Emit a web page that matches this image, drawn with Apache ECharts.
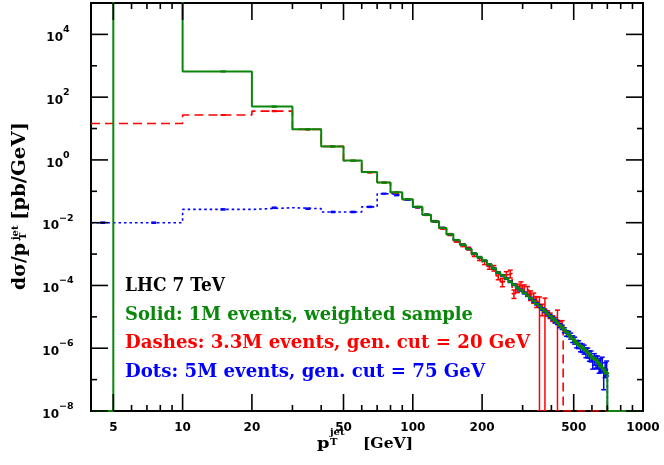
<!DOCTYPE html>
<html>
<head>
<meta charset="utf-8">
<script src="https://cdn.jsdelivr.net/npm/echarts@6/dist/echarts.min.js"></script>
<style>
html, body { margin: 0; padding: 0; background: #fff; }
#chart { width: 664px; height: 465px; }
</style>
</head>
<body>
<div id="chart"></div>
<script>
// bin edges (GeV): 4-5, 5-10, then 10 GeV bins up to 700, then 700-1000
const binEdges = [4, 5, 10, 20, 30, 40, 50, 60, 70, 80, 90,
  100, 110, 120, 130, 140, 150, 160, 170, 180, 190,
  200, 210, 220, 230, 240, 250, 260, 270, 280, 290,
  300, 310, 320, 330, 340, 350, 360, 370, 380, 390,
  400, 410, 420, 430, 440, 450, 460, 470, 480, 490,
  500, 510, 520, 530, 540, 550, 560, 570, 580, 590,
  600, 610, 620, 630, 640, 650, 660, 670, 680, 690,
  700, 1000];

// solid: 1M events, weighted sample
const greenVals = [0, 1e6, 660, 50, 9.5, 2.7,
  0.95, 0.41, 0.19, 0.093, 0.056,
  0.032, 0.018, 0.011, 0.0068, 0.0043, 0.0028, 0.0020, 0.00145, 0.00105, 0.00079,
  6.2e-4, 4.7e-4, 3.5e-4, 2.6e-4, 2.1e-4, 1.66e-4, 1.32e-4, 1.05e-4, 8.5e-5, 7.1e-5,
  5.8e-5, 4.8e-5, 3.9e-5, 3.2e-5, 2.6e-5, 2.2e-5, 1.8e-5, 1.5e-5, 1.26e-5, 1.07e-5,
  8.9e-6, 7.6e-6, 6.5e-6, 5.4e-6, 4.6e-6, 3.9e-6, 3.3e-6, 2.75e-6, 2.35e-6, 2.0e-6,
  1.7e-6, 1.45e-6, 1.29e-6, 1.15e-6, 1.02e-6, 9.1e-7, 8.1e-7, 7.2e-7, 6.3e-7, 5.6e-7,
  5.0e-7, 4.6e-7, 4.2e-7, 3.6e-7, 3.2e-7, 2.75e-7, 2.4e-7, 2.1e-7, 1.8e-7, 1.6e-7,
  0];
const greenRelErr = [0, 0, 0.03, 0.04, 0.03, 0.03,
  0.02, 0.02, 0.02, 0.02, 0.02,
  0.02, 0.02, 0.02, 0.02, 0.02, 0.02, 0.02, 0.02, 0.02, 0.02,
  0.02, 0.02, 0.02, 0.02, 0.02, 0.02, 0.02, 0.02, 0.02, 0.02,
  0.02, 0.02, 0.02, 0.02, 0.02, 0.02, 0.02, 0.02, 0.02, 0.02,
  0.02, 0.02, 0.02, 0.02, 0.02, 0.02, 0.02, 0.02, 0.02, 0.02,
  0.02, 0.02, 0.02, 0.02, 0.02, 0.02, 0.02, 0.02, 0.02, 0.02,
  0.02, 0.02, 0.02, 0.02, 0.02, 0.02, 0.02, 0.02, 0.02, 0.02,
  0];

// dashes: 3.3M events, gen. cut = 20 GeV
const redVals = [14.4, 14.4, 27, 36, 9.4, 2.7,
  0.94, 0.40, 0.19, 0.091, 0.055,
  0.031, 0.018, 0.011, 0.0066, 0.0042, 0.0026, 0.0019, 0.0015, 0.00095, 0.00072,
  5.5e-4, 4.0e-4, 3.6e-4, 2.0e-4, 1.3e-4, 2.2e-4, 2.4e-4, 5.5e-5, 8.5e-5, 1.0e-4,
  8.0e-5, 7.0e-5, 5.0e-5, 4.2e-5, 3.2e-5, 2.0e-5, 1.8e-5, 1.8e-5, 1.3e-5, 1.1e-5,
  9.0e-6, 8.0e-6, 8.0e-6, 6.0e-6, 6.3e-6, 0, 0, 0, 0, 0,
  0, 0, 0, 0, 0, 0, 0, 0, 0, 0,
  0, 0, 0, 0, 0, 0, 0, 0, 0, 0,
  0];
const redRelErr = [0, 0, 0.02, 0.03, 0.03, 0.03,
  0.03, 0.03, 0.04, 0.04, 0.05,
  0.05, 0.05, 0.06, 0.06, 0.07, 0.08, 0.09, 0.1, 0.12, 0.14,
  0.16, 0.18, 0.2, 0.24, 0.3, 0.25, 0.28, 0.3, 0.3, 0.3,
  0.3, 0.32, 0.34, 0.36, 0.38, 1.15, 0.4, 1.2, 0.2, 0.2,
  0.2, 0.2, 1.05, 0.2, 0.2, 0, 0, 0, 0, 0,
  0, 0, 0, 0, 0, 0, 0, 0, 0, 0,
  0, 0, 0, 0, 0, 0, 0, 0, 0, 0,
  0];

// dots: 5M events, gen. cut = 75 GeV
const blueVals = [0.01, 0.01, 0.0265, 0.030, 0.028, 0.022,
  0.022, 0.032, 0.084, 0.075, 0.054,
  0.031, 0.018, 0.011, 0.0069, 0.0043, 0.0028, 0.0020, 0.00146, 0.00104, 0.00080,
  6.1e-4, 4.7e-4, 3.5e-4, 2.6e-4, 2.1e-4, 1.65e-4, 1.32e-4, 1.06e-4, 8.4e-5, 7.1e-5,
  5.8e-5, 4.8e-5, 3.9e-5, 3.2e-5, 2.6e-5, 2.2e-5, 1.8e-5, 1.5e-5, 1.27e-5, 1.06e-5,
  9.0e-6, 7.4e-6, 6.6e-6, 5.3e-6, 4.7e-6, 3.8e-6, 3.0e-6, 2.9e-6, 2.5e-6, 2.0e-6,
  1.8e-6, 1.4e-6, 1.35e-6, 1.1e-6, 1.05e-6, 9.5e-7, 7.6e-7, 7.5e-7, 6.0e-7, 5.9e-7,
  3.6e-7, 4.8e-7, 4.0e-7, 3.9e-7, 2.9e-7, 3.2e-7, 3.5e-7, 1.4e-7, 2.3e-7, 2.6e-7,
  0];
const blueRelErr = [0.04, 0.04, 0.04, 0.04, 0.04, 0.04,
  0.04, 0.04, 0.03, 0.03, 0.03,
  0.03, 0.03, 0.03, 0.03, 0.03, 0.03, 0.03, 0.04, 0.04, 0.04,
  0.04, 0.04, 0.05, 0.05, 0.05, 0.05, 0.06, 0.06, 0.06, 0.07,
  0.07, 0.07, 0.08, 0.08, 0.08, 0.09, 0.09, 0.1, 0.1, 0.11,
  0.12, 0.13, 0.14, 0.15, 0.16, 0.18, 0.2, 0.2, 0.22, 0.24,
  0.25, 0.27, 0.28, 0.3, 0.3, 0.32, 0.34, 0.35, 0.36, 0.38,
  0.4, 0.4, 0.42, 0.44, 0.45, 0.46, 0.48, 0.66, 0.5, 0.5,
  0];

const xLabelTicks = [5, 10, 20, 50, 100, 200, 500, 1000];
const xMinorTicks = [6, 7, 8, 9, 30, 40, 60, 70, 80, 90, 300, 400, 600, 700, 800, 900];
const yLabelTicks = [1e-8, 1e-6, 1e-4, 1e-2, 1, 1e2, 1e4];
const yMinorTicks = [1e-7, 1e-5, 1e-3, 1e-1, 10, 1e3];

const legendLines = ['LHC 7 TeV', 'Solid: 1M events, weighted sample',
  'Dashes: 3.3M events, gen. cut = 20 GeV', 'Dots: 5M events, gen. cut = 75 GeV'];

const GREEN = '#0a870a', RED = '#ff0000', BLUE = '#0000ff';
const legendColors = ['#000000', GREEN, RED, BLUE];
const legendWidths = [100, 348, 405, 360];
const xMin = 4, xMax = 1000, yMin = 1e-8, yMax = 1e5;
const MAJOR_LEN = 17, MINOR_LEN = 6, TICK_W = 1.6;
const G = { left: 91, top: 3, right: 643, bottom: 411 };

const clampY = v => (v > yMin ? v : yMin);

// squeeze a proportional serif so that a string takes the width it has in the picture
const measureCtx = document.createElement('canvas').getContext('2d');
function fitScale(text, font, width) {
  measureCtx.font = font;
  return width / measureCtx.measureText(text).width;
}

// histogram as step line: value i spans [edge i, edge i+1]
function stepPoints(vals) {
  const pts = vals.map((v, i) => [binEdges[i], clampY(v)]);
  pts.push([binEdges[binEdges.length - 1], clampY(vals[vals.length - 1])]);
  return pts;
}

function errPoints(vals, rel) {
  const out = [];
  vals.forEach((v, i) => {
    if (!(v > 0) || !(rel[i] > 0) || v > yMax) return;
    const e = v * rel[i];
    const c = (binEdges[i] + binEdges[i + 1]) / 2;
    out.push([c, clampY(v - e), Math.min(v + e, yMax)]);
  });
  return out;
}

function errRender(color) {
  return function (params, api) {
    const x = api.value(0);
    const lo = api.coord([x, api.value(1)]);
    const hi = api.coord([x, api.value(2)]);
    const w = 2.5;
    const style = { stroke: color, lineWidth: 1.5 };
    return {
      type: 'group',
      children: [
        { type: 'line', shape: { x1: lo[0], y1: lo[1], x2: hi[0], y2: hi[1] }, style },
        { type: 'line', shape: { x1: lo[0] - w, y1: lo[1], x2: lo[0] + w, y2: lo[1] }, style },
        { type: 'line', shape: { x1: hi[0] - w, y1: hi[1], x2: hi[0] + w, y2: hi[1] }, style }
      ]
    };
  };
}

const serif = '"DejaVu Serif", "Liberation Serif", serif';
const legendFont = 'bold 19px ' + serif;
const legendGraphics = legendLines.map((t, i) => ({
  type: 'text', x: 125, y: 286.5 + i * 28.4,
  scaleX: fitScale(t, legendFont, legendWidths[i]),
  style: { text: t, fill: legendColors[i], font: legendFont, verticalAlign: 'middle' }
}));

const scriptFont = 'bold 10px ' + serif;
const xTitleFont = 'bold 15.5px ' + serif;
const xTitle = {
  type: 'group',
  children: [
    { type: 'text', x: 317, y: 443.8, scaleX: fitScale('p', xTitleFont, 12.5),
      style: { text: 'p', font: xTitleFont, fill: '#000', verticalAlign: 'middle' } },
    { type: 'text', x: 330, y: 432.3, style: { text: 'jet', font: scriptFont, fill: '#000', verticalAlign: 'middle' } },
    { type: 'text', x: 330, y: 442.3, style: { text: 'T', font: scriptFont, fill: '#000', verticalAlign: 'middle' } },
    { type: 'text', x: 363, y: 443.8, scaleX: fitScale('[GeV]', xTitleFont, 50),
      style: { text: '[GeV]', font: xTitleFont, fill: '#000', verticalAlign: 'middle' } }
  ]
};

const yTitleFont = 'bold 18.5px ' + serif;
const yTitle = {
  type: 'group', x: 20.3, y: 290, rotation: Math.PI / 2,
  children: [
    { type: 'text', x: 0, y: 0, scaleX: fitScale('d\u03c3/p', yTitleFont, 47),
      style: { text: 'd\u03c3/p', font: yTitleFont, fill: '#000', verticalAlign: 'middle' } },
    { type: 'text', x: 50, y: -4.8, style: { text: 'jet', font: scriptFont, fill: '#000', verticalAlign: 'middle' } },
    { type: 'text', x: 50, y: 2.7, style: { text: 'T', font: scriptFont, fill: '#000', verticalAlign: 'middle' } },
    { type: 'text', x: 70, y: 0, scaleX: fitScale('[pb/GeV]', yTitleFont, 98),
      style: { text: '[pb/GeV]', font: yTitleFont, fill: '#000', verticalAlign: 'middle' } }
  ]
};

const chart = echarts.init(document.getElementById('chart'));
chart.setOption({
  animation: false,
  backgroundColor: '#fff',
  grid: { left: G.left, right: 664 - G.right, top: G.top, bottom: 465 - G.bottom,
    show: true, borderColor: '#000', borderWidth: 2, backgroundColor: 'transparent' },
  xAxis: {
    type: 'log', logBase: 10, min: xMin, max: xMax,
    axisLine: { show: true, onZero: false, lineStyle: { color: '#000', width: 2 } },
    axisTick: { show: false },
    axisLabel: {
      customValues: xLabelTicks, margin: 11,
      fontFamily: 'DejaVu Sans', fontWeight: 'bold', fontSize: 12, color: '#000',
      formatter: v => String(Math.round(v))
    },
    splitLine: { show: false }
  },
  yAxis: {
    type: 'log', logBase: 10, min: yMin, max: yMax,
    axisLine: { show: true, onZero: false, lineStyle: { color: '#000', width: 2 } },
    axisTick: { show: false },
    axisLabel: {
      customValues: yLabelTicks, margin: 33, align: 'center',
      formatter: v => {
        const p = Math.round(Math.log10(v));
        return '{b|10}{s|' + (p < 0 ? '\u2212' + (-p) : p) + '}';
      },
      rich: {
        b: { fontFamily: 'DejaVu Sans', fontWeight: 'bold', fontSize: 12, color: '#000',
          lineHeight: 19, verticalAlign: 'bottom', padding: [3, 0, 0, 0] },
        s: { fontFamily: 'DejaVu Sans', fontWeight: 'bold', fontSize: 9.5, color: '#000',
          lineHeight: 9, verticalAlign: 'top' }
      }
    },
    splitLine: { show: false }
  },
  series: [
    { type: 'line', step: 'end', data: stepPoints(redVals), symbol: 'none', clip: true, z: 2,
      lineStyle: { color: RED, width: 1.6, type: [9, 5] } },
    { type: 'line', step: 'end', data: stepPoints(blueVals), symbol: 'none', clip: true, z: 3,
      lineStyle: { color: BLUE, width: 1.6, type: [2.5, 3] } },
    { type: 'custom', renderItem: errRender(RED), data: errPoints(redVals, redRelErr),
      encode: { x: 0, y: [1, 2] }, clip: true, z: 4 },
    { type: 'custom', renderItem: errRender(BLUE), data: errPoints(blueVals, blueRelErr),
      encode: { x: 0, y: [1, 2] }, clip: true, z: 5 },
    { type: 'line', step: 'end', data: stepPoints(greenVals), symbol: 'none', clip: true, z: 6,
      lineStyle: { color: GREEN, width: 2 } },
    { type: 'custom', renderItem: errRender(GREEN), data: errPoints(greenVals, greenRelErr),
      encode: { x: 0, y: [1, 2] }, clip: true, z: 7 }
  ]
});

// inward ticks on all four sides, placed through the axes' own scales,
// drawn as thin filled rectangles on their own layer above the plot
const tickGraphics = [];
function tickRect(x, y, w, h) {
  tickGraphics.push({ type: 'rect', zlevel: 1, z: 100, silent: true,
    shape: { x: x, y: y, width: w, height: h }, style: { fill: '#000' } });
}
function addXTick(v, len) {
  const x = chart.convertToPixel({ xAxisIndex: 0 }, v);
  tickRect(x - TICK_W / 2, G.bottom - len, TICK_W, len);
  tickRect(x - TICK_W / 2, G.top, TICK_W, len);
}
function addYTick(v, len) {
  const y = chart.convertToPixel({ yAxisIndex: 0 }, v);
  tickRect(G.left, y - TICK_W / 2, len, TICK_W);
  tickRect(G.right - len, y - TICK_W / 2, len, TICK_W);
}
xLabelTicks.forEach(v => addXTick(v, MAJOR_LEN));
xMinorTicks.forEach(v => addXTick(v, MINOR_LEN));
yLabelTicks.forEach(v => addYTick(v, MAJOR_LEN));
yMinorTicks.forEach(v => addYTick(v, MINOR_LEN));

// all graphics are added in one go, after the axes exist
chart.setOption({ graphic: tickGraphics.concat(legendGraphics, [xTitle, yTitle]) });
</script>
</body>
</html>
